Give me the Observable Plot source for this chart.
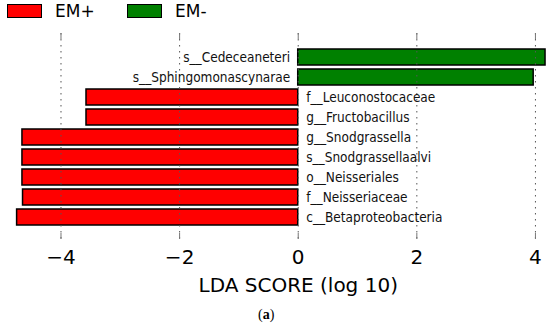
<!DOCTYPE html>
<html>
<head>
<meta charset="utf-8">
<script src="https://cdn.jsdelivr.net/npm/d3@7"></script>
<script src="https://cdn.jsdelivr.net/npm/@observablehq/plot@0.6"></script>
<style>
  html, body { margin: 0; padding: 0; background: #fff; }
  body { width: 550px; height: 329px; overflow: hidden; font-family: "DejaVu Sans", sans-serif; }
  #legend { position: relative; height: 24px; }
  #legend .sw { position: absolute; top: 4px; width: 33px; height: 12px; border: 1.5px solid #000; }
  #legend .lb { position: absolute; top: 0px; font-size: 17px; line-height: 22px; color: #000; }
  #caption { height: 24px; line-height: 24px; font-family: "Liberation Serif", serif; font-size: 14px; color: #000; position: relative; }
  #caption span { position: absolute; left: 258px; top: -2px; }
  svg { display: block; }
</style>
</head>
<body>
<div id="legend"></div>
<div id="chart"></div>
<div id="caption"><span>(<b>a</b>)</span></div>
<script>
const taxa = [
  "s__Cedeceaneteri",
  "s__Sphingomonascynarae",
  "f__Leuconostocaceae",
  "g__Fructobacillus",
  "g__Snodgrassella",
  "s__Snodgrassellaalvi",
  "o__Neisseriales",
  "f__Neisseriaceae",
  "c__Betaproteobacteria"
];
const ldaScores = [4.17, 3.97, -3.57, -3.57, -4.65, -4.65, -4.65, -4.64, -4.74];
const groups = ["EM-", "EM-", "EM+", "EM+", "EM+", "EM+", "EM+", "EM+", "EM+"];
const groupNames = ["EM+", "EM-"];
const groupColors = ["#ff0000", "#008000"];
const xTicks = [-4, -2, 0, 2, 4];
const xLabel = "LDA SCORE (log 10)";

const data = taxa.map((t, i) => ({taxon: t, score: ldaScores[i], group: groups[i]}));

// legend
const legend = document.getElementById("legend");
const legendX = [[7, 55], [127, 175]];
groupNames.forEach((g, i) => {
  const sw = document.createElement("div");
  sw.className = "sw";
  sw.style.left = legendX[i][0] + "px";
  sw.style.background = groupColors[i];
  legend.appendChild(sw);
  const lb = document.createElement("div");
  lb.className = "lb";
  lb.style.left = legendX[i][1] + "px";
  lb.textContent = g;
  legend.appendChild(lb);
});

const labelFont = "DejaVu Sans Condensed, DejaVu Sans, sans-serif";

const chart = Plot.plot({
  width: 550,
  height: 281,
  marginTop: 9,
  marginBottom: 66,
  marginLeft: 0,
  marginRight: 2,
  style: {fontFamily: "DejaVu Sans, sans-serif", background: "#fff", color: "#000"},
  x: {domain: [-5.02, 4.22], ticks: xTicks},
  y: {domain: taxa, padding: 0.2, insetTop: 9.4, insetBottom: 7.9, axis: null},
  color: {domain: groupNames, range: groupColors},
  marks: [
    Plot.barX(data, {x: "score", y: "taxon", fill: "group", stroke: "#000", strokeWidth: 1.5}),
    Plot.ruleX(xTicks, {x: d => d, stroke: "#555", strokeWidth: 1, strokeDasharray: "1.5,4.5"}),
    Plot.ruleX(xTicks, {x: d => d, stroke: "#777", strokeWidth: 1, insetBottom: 200}),
    Plot.ruleX(xTicks, {x: d => d, stroke: "#777", strokeWidth: 1, insetTop: 200}),
    Plot.text(data.filter(d => d.score < 0), {
      x: () => 0, y: "taxon", text: "taxon",
      textAnchor: "start", dx: 8,
      fontSize: 13.5, fontFamily: labelFont, fill: "#111"
    }),
    Plot.text(data.filter(d => d.score >= 0), {
      x: () => 0, y: "taxon", text: "taxon",
      textAnchor: "end", dx: -8,
      fontSize: 13.5, fontFamily: labelFont, fill: "#111"
    }),
    Plot.axisX(xTicks, {tickSize: 0, tickPadding: 10, fontSize: 20, tickFormat: d3.format("d"), label: null}),
    Plot.text([xLabel], {x: () => 0, frameAnchor: "bottom", dy: 52, fontSize: 20, fill: "#000"})
  ]
});
document.getElementById("chart").appendChild(chart);
</script>
</body>
</html>
